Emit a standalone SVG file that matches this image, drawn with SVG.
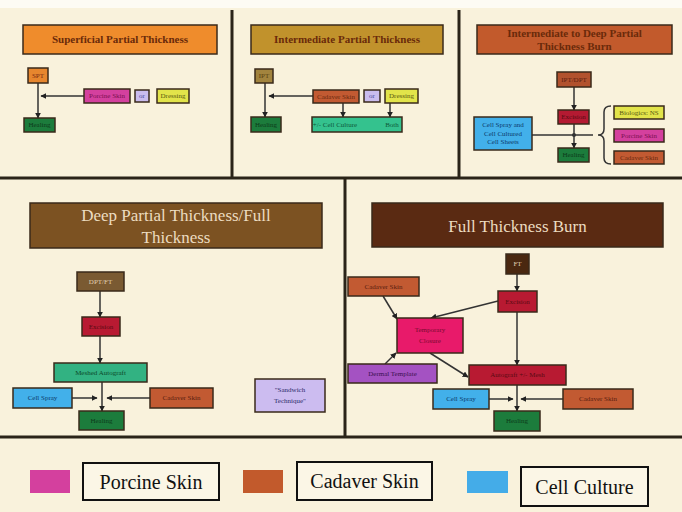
<svg xmlns="http://www.w3.org/2000/svg" width="682" height="512" viewBox="0 0 682 512">
<style>
.bx{stroke:#3a2a1a;stroke-width:1.5}
.t{font-family:"Liberation Serif",serif;font-size:7px;text-anchor:middle;dominant-baseline:central}
.tt{font-family:"Liberation Serif",serif;font-weight:bold;font-size:11px;text-anchor:middle;fill:#6a2a0a}
.bt{font-family:"Liberation Serif",serif;font-size:17px;text-anchor:middle;fill:#ecdcc0}
.lg{font-family:"Liberation Serif",serif;font-size:20px;text-anchor:middle;fill:#111}
.c{stroke:#333;stroke-width:1.5;fill:none}
.ca{stroke:#333;stroke-width:1.5;fill:none;marker-end:url(#ah)}
.div{stroke:#2a2418;stroke-width:3}
</style>
<defs>
<marker id="ah" viewBox="0 0 10 10" refX="9" refY="5" markerWidth="4" markerHeight="4" orient="auto"><path d="M0 0L10 5L0 10z" fill="#222"/></marker>
</defs>
<rect width="682" height="512" fill="#f9f2dc"/>
<rect width="682" height="8" fill="#fdfbf4"/>
<g id="dividers">
<line class="div" x1="0" y1="178" x2="682" y2="178"/>
<line class="div" x1="232" y1="10" x2="232" y2="178"/>
<line class="div" x1="459" y1="10" x2="459" y2="178"/>
<line class="div" x1="345" y1="178" x2="345" y2="437"/>
<line class="div" x1="0" y1="437" x2="682" y2="437"/>
</g>
<g id="connectors">
<line class="ca" x1="38" y1="83" x2="38" y2="118"/>
<line class="ca" x1="84" y1="96" x2="41" y2="96"/>
<line class="ca" x1="265" y1="83" x2="265" y2="117"/>
<line class="ca" x1="313" y1="96" x2="269" y2="96"/>
<line class="ca" x1="343" y1="102" x2="343" y2="117"/>
<line class="ca" x1="390" y1="103" x2="390" y2="117"/>
<line class="ca" x1="574" y1="87" x2="574" y2="110"/>
<line class="ca" x1="574" y1="124" x2="574" y2="148"/>
<line class="c" x1="532" y1="135" x2="593" y2="135"/>
<circle cx="574" cy="135" r="2" fill="#333"/>
<path class="c" d="M611 106 Q604 106 604 112 L604 129 Q604 135 598 135 Q604 135 604 141 L604 158 Q604 164 611 164"/>
<line class="ca" x1="100" y1="291" x2="100" y2="317"/>
<line class="ca" x1="100" y1="336" x2="100" y2="363"/>
<line class="ca" x1="102" y1="382" x2="102" y2="411"/>
<line class="ca" x1="72" y1="398" x2="97" y2="398"/>
<line class="ca" x1="150" y1="398" x2="107" y2="398"/>
<line class="ca" x1="517" y1="274" x2="517" y2="291"/>
<line class="ca" x1="517" y1="312" x2="517" y2="365"/>
<line class="ca" x1="498" y1="301" x2="431" y2="318"/>
<line class="ca" x1="383" y1="296" x2="397" y2="319"/>
<line class="ca" x1="385" y1="364" x2="396" y2="353"/>
<line class="ca" x1="430" y1="353" x2="468" y2="377"/>
<line class="ca" x1="517" y1="385" x2="517" y2="411"/>
<line class="ca" x1="489" y1="399" x2="513" y2="399"/>
<line class="ca" x1="563" y1="399" x2="521" y2="399"/>
</g>
<g id="title-spt"><rect class="bx" x="23" y="25" width="194" height="29" fill="#ef8c2c"/><text class="tt" x="120" y="43">Superficial Partial Thickness</text></g>
<g id="spt"><rect class="bx" x="28" y="68" width="20" height="15" fill="#e6862e"/><text class="t" x="38" y="75.5" fill="#7a2a10">SPT</text></g>
<g id="porcine-1"><rect class="bx" x="84" y="89" width="46" height="14" fill="#d4409e"/><text class="t" x="107" y="96" fill="#7a1050">Porcine Skin</text></g>
<g id="or-1"><rect class="bx" x="135" y="90" width="14" height="12" fill="#cabcee"/><text class="t" x="142" y="96" fill="#4a4a9a">or</text></g>
<g id="dressing-1"><rect class="bx" x="157" y="89" width="32" height="14" fill="#e2e44a"/><text class="t" x="173" y="96" fill="#5a5a10">Dressing</text></g>
<g id="healing-1"><rect class="bx" x="24" y="118" width="31" height="14" fill="#1c7c3c"/><text class="t" x="39.5" y="125" fill="#0c3a1a">Healing</text></g>

<g id="title-ipt"><rect class="bx" x="251" y="25" width="192" height="29" fill="#c1922c"/><text class="tt" x="347" y="43">Intermediate Partial Thickness</text></g>
<g id="ipt"><rect class="bx" x="255" y="69" width="18" height="14" fill="#a2843e"/><text class="t" x="264" y="76" fill="#5a4010">IPT</text></g>
<g id="cadaver-1"><rect class="bx" x="313" y="90" width="46" height="13" fill="#c25a32"/><text class="t" x="336" y="96.5" fill="#6a2a10">Cadaver Skin</text></g>
<g id="or-2"><rect class="bx" x="364" y="90" width="16" height="12" fill="#cabcee"/><text class="t" x="372" y="96" fill="#4a4a9a">or</text></g>
<g id="dressing-2"><rect class="bx" x="385" y="89" width="33" height="14" fill="#e2e44a"/><text class="t" x="401.5" y="96" fill="#5a5a10">Dressing</text></g>
<g id="healing-2"><rect class="bx" x="251" y="117" width="30" height="15" fill="#1c7c3c"/><text class="t" x="266" y="124.5" fill="#0c3a1a">Healing</text></g>
<g id="cell-culture-bar"><rect class="bx" x="312" y="117" width="90" height="15" fill="#34c28e"/><text class="t" x="335" y="124.5" fill="#0e5a3a">+/- Cell Culture</text><text class="t" x="392" y="124.5" fill="#0e5a3a">Both</text></g>

<g id="title-idpt"><rect class="bx" x="477" y="25" width="195" height="29" fill="#c25a2c"/><text class="tt" x="574.5" y="37">Intermediate to Deep Partial</text><text class="tt" x="574.5" y="50">Thickness Burn</text></g>
<g id="ipt-dpt"><rect class="bx" x="557" y="72" width="34" height="15" fill="#b2522e"/><text class="t" x="574" y="79.5" fill="#5a2010">IPT/DPT</text></g>
<g id="excision-1"><rect class="bx" x="558" y="110" width="31" height="14" fill="#b41a32"/><text class="t" x="573.5" y="117" fill="#5a0a12">Excision</text></g>
<g id="healing-3"><rect class="bx" x="558" y="148" width="31" height="14" fill="#1c7c3c"/><text class="t" x="573.5" y="155" fill="#0c3a1a">Healing</text></g>
<g id="cell-spray-1"><rect class="bx" x="474" y="117" width="58" height="33" fill="#42b0ea"/><text class="t" x="503" y="125" fill="#0c3a6a">Cell Spray and</text><text class="t" x="503" y="133.5" fill="#0c3a6a">Cell Cultured</text><text class="t" x="503" y="142" fill="#0c3a6a">Cell Sheets</text></g>
<g id="biologics"><rect class="bx" x="614" y="106" width="50" height="13" fill="#e2e44a"/><text class="t" x="639" y="112.5" fill="#5a5a10">Biologics: NS</text></g>
<g id="porcine-2"><rect class="bx" x="614" y="129" width="50" height="13" fill="#d4409e"/><text class="t" x="639" y="135.5" fill="#7a1050">Porcine Skin</text></g>
<g id="cadaver-2"><rect class="bx" x="614" y="151" width="50" height="13" fill="#c25a32"/><text class="t" x="639" y="157.5" fill="#6a2a10">Cadaver Skin</text></g>

<g id="title-dpt-ft"><rect class="bx" x="30" y="203" width="292" height="45" fill="#7c5222"/><text class="bt" x="176" y="221">Deep Partial Thickness/Full</text><text class="bt" x="176" y="243">Thickness</text></g>
<g id="dpt-ft"><rect class="bx" x="77" y="272" width="47" height="19" fill="#7a5a32"/><text class="t" x="100.5" y="281.5" fill="#e0d0b0">DPT/FT</text></g>
<g id="excision-2"><rect class="bx" x="82" y="317" width="38" height="19" fill="#b81a32"/><text class="t" x="101" y="326.5" fill="#5a0a12">Excision</text></g>
<g id="meshed-autograft"><rect class="bx" x="54" y="363" width="93" height="19" fill="#32b282"/><text class="t" x="100.5" y="372.5" fill="#0c4a2a">Meshed Autograft</text></g>
<g id="cell-spray-2"><rect class="bx" x="13" y="388" width="59" height="20" fill="#42b0ea"/><text class="t" x="42.5" y="398" fill="#0c3a6a">Cell Spray</text></g>
<g id="cadaver-3"><rect class="bx" x="150" y="388" width="63" height="20" fill="#c25a32"/><text class="t" x="181.5" y="398" fill="#5a2010">Cadaver Skin</text></g>
<g id="healing-4"><rect class="bx" x="79" y="411" width="45" height="19" fill="#1c7c3c"/><text class="t" x="101.5" y="420.5" fill="#0c3a1a">Healing</text></g>
<g id="sandwich"><rect class="bx" x="255" y="379" width="70" height="33" fill="#ccbcf0"/><text class="t" x="290" y="390" fill="#2a2a6a">"Sandwich</text><text class="t" x="290" y="401" fill="#2a2a6a">Technique"</text></g>

<g id="title-ft"><rect class="bx" x="372" y="203" width="291" height="44" fill="#5a2a12"/><text class="bt" x="517.5" y="232">Full Thickness Burn</text></g>
<g id="ft"><rect class="bx" x="506" y="254" width="23" height="20" fill="#4a2810"/><text class="t" x="517.5" y="264" fill="#e0d0b0">FT</text></g>
<g id="excision-3"><rect class="bx" x="498" y="291" width="39" height="21" fill="#b81a32"/><text class="t" x="517.5" y="301.5" fill="#5a0a12">Excision</text></g>
<g id="cadaver-4"><rect class="bx" x="348" y="277" width="71" height="19" fill="#c25a32"/><text class="t" x="383.5" y="286.5" fill="#5a2010">Cadaver Skin</text></g>
<g id="temp-closure"><rect class="bx" x="397" y="318" width="66" height="35" fill="#e81a6a"/><text class="t" x="430" y="330" fill="#7a0a30">Temporary</text><text class="t" x="430" y="341" fill="#7a0a30">Closure</text></g>
<g id="dermal-template"><rect class="bx" x="348" y="364" width="89" height="19" fill="#a452c2"/><text class="t" x="392.5" y="373.5" fill="#3a1050">Dermal Template</text></g>
<g id="autograft"><rect class="bx" x="469" y="365" width="97" height="20" fill="#b81a32"/><text class="t" x="517.5" y="375" fill="#5a0a12">Autograft +/- Mesh</text></g>
<g id="cell-spray-3"><rect class="bx" x="433" y="389" width="56" height="20" fill="#42b0ea"/><text class="t" x="461" y="399" fill="#0c3a6a">Cell Spray</text></g>
<g id="cadaver-5"><rect class="bx" x="563" y="389" width="70" height="20" fill="#c25a32"/><text class="t" x="598" y="399" fill="#5a2010">Cadaver Skin</text></g>
<g id="healing-5"><rect class="bx" x="494" y="411" width="46" height="20" fill="#1c7c3c"/><text class="t" x="517" y="421" fill="#0c3a1a">Healing</text></g>

<g id="legend-porcine"><rect x="30" y="470" width="40" height="23" fill="#d4409e"/><rect x="83" y="463" width="136" height="37" fill="#fbf6e6" stroke="#111" stroke-width="2"/><text class="lg" x="151" y="489">Porcine Skin</text></g>
<g id="legend-cadaver"><rect x="243" y="470" width="40" height="23" fill="#c25a2c"/><rect x="297" y="462" width="135" height="38" fill="#fbf6e6" stroke="#111" stroke-width="2"/><text class="lg" x="364.5" y="488">Cadaver Skin</text></g>
<g id="legend-cell"><rect x="467" y="471" width="41" height="22" fill="#44ace8"/><rect x="521" y="467" width="127" height="39" fill="#fbf6e6" stroke="#111" stroke-width="2"/><text class="lg" x="584.5" y="494">Cell Culture</text></g>
</svg>
